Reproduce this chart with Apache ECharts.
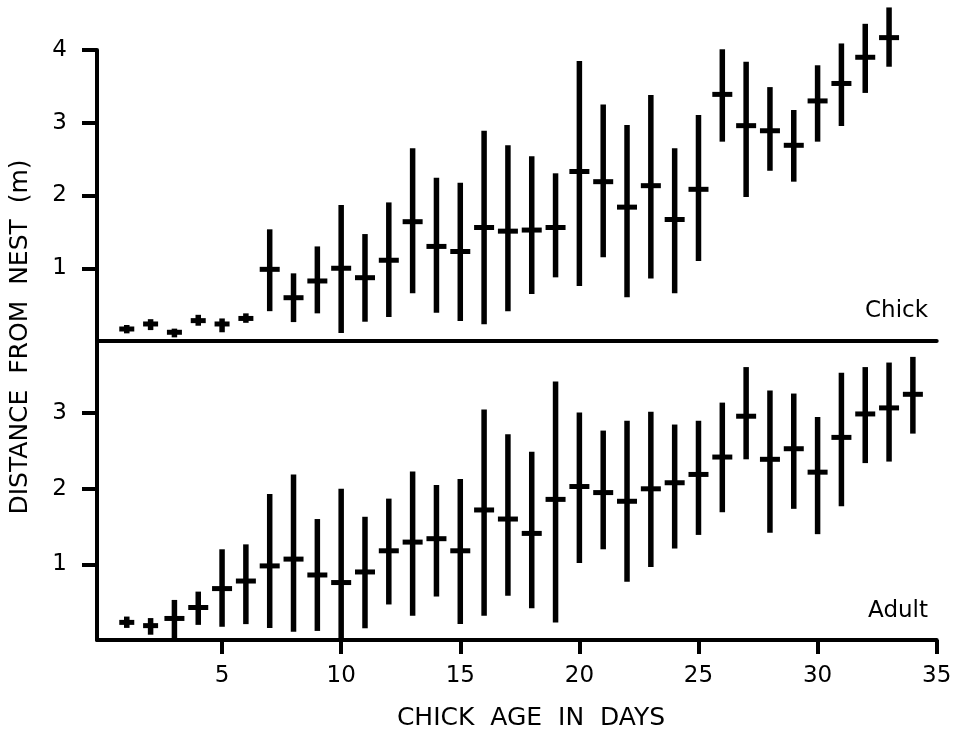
<!DOCTYPE html>
<html><head><meta charset="utf-8">
<script src="https://cdn.jsdelivr.net/npm/echarts@6/dist/echarts.min.js"></script>
<style>html,body{margin:0;padding:0;background:#fff}#c{width:961px;height:729px}</style>
</head><body><div id="c"></div>
<script>
// ---- data ----
const chickDays = [1,2,3,4,5,6,7,8,9,10,11,12,13,14,15,16,17,18,19,20,21,22,23,24,25,26,27,28,29,30,31,32,33];
const chickMean = [0.165,0.234,0.12,0.28,0.234,0.31,0.985,0.595,0.825,1.0,0.87,1.11,1.64,1.30,1.23,1.56,1.51,1.525,1.56,2.33,2.19,1.84,2.135,1.67,2.085,3.39,2.96,2.89,2.69,3.30,3.54,3.90,4.17];
const chickLow  = [0.105,0.15,0.05,0.21,0.12,0.25,0.41,0.26,0.38,0.11,0.265,0.33,0.655,0.39,0.275,0.23,0.41,0.645,0.875,0.755,1.15,0.60,0.86,0.655,1.10,2.74,1.98,2.34,2.19,2.74,2.955,3.41,3.77];
const chickHigh = [0.22,0.30,0.17,0.36,0.31,0.38,1.535,0.93,1.30,1.87,1.47,1.905,2.65,2.245,2.175,2.89,2.69,2.54,2.305,3.85,3.25,2.97,3.38,2.65,3.105,4.01,3.84,3.49,3.175,3.79,4.09,4.36,4.585];

const adultDays = [1,2,3,4,5,6,7,8,9,10,11,12,13,14,15,16,17,18,19,20,21,22,23,24,25,26,27,28,29,30,31,32,33,34];
const adultMean = [0.233,0.19,0.285,0.43,0.68,0.78,0.98,1.07,0.86,0.76,0.90,1.18,1.295,1.34,1.18,1.72,1.60,1.41,1.86,2.03,1.95,1.835,2.0,2.08,2.19,2.42,2.96,2.39,2.53,2.22,2.68,2.99,3.07,3.25];
const adultLow  = [0.16,0.07,0.01,0.20,0.175,0.21,0.16,0.11,0.12,0.0,0.155,0.47,0.32,0.575,0.21,0.32,0.585,0.42,0.23,1.02,1.20,0.77,0.965,1.21,1.39,1.69,2.39,1.42,1.735,1.40,1.77,2.34,2.36,2.73];
const adultHigh = [0.31,0.29,0.53,0.64,1.20,1.265,1.93,2.19,1.60,2.00,1.63,1.87,2.23,2.05,2.13,3.05,2.72,2.49,3.42,3.01,2.77,2.90,3.02,2.85,2.90,3.14,3.61,3.30,3.26,2.95,3.535,3.61,3.67,3.745];

const xTicks = [5,10,15,20,25,30,35];
const chickYTicks = [1,2,3,4];
const adultYTicks = [1,2,3];

const panelLabels = ['Chick','Adult'];
const xTitle = 'CHICK  AGE  IN  DAYS';
const yTitle = 'DISTANCE  FROM  NEST  (m)';

// ---- chart ----
const FONT = '"DejaVu Sans", "Liberation Sans", Arial, sans-serif';
const chart = echarts.init(document.getElementById('c'), null, {renderer:'canvas'});

function rows(days, mean, low, high){ return days.map((d,i)=>[d, mean[i], low[i], high[i]]); }

function renderBar(params, api){
  const x = api.value(0), m = api.value(1), lo = api.value(2), hi = api.value(3);
  const pM = api.coord([x,m]), pL = api.coord([x,lo]), pH = api.coord([x,hi]);
  const span = pL[1] - pH[1];
  const hw = span < 30 ? 7.5 : 10;
  return {type:'group', children:[
    {type:'line', shape:{x1:pL[0],y1:pL[1],x2:pH[0],y2:pH[1]}, style:{stroke:'#000',lineWidth:5.5}},
    {type:'line', shape:{x1:pM[0]-hw,y1:pM[1],x2:pM[0]+hw,y2:pM[1]}, style:{stroke:'#000',lineWidth:5}}
  ]};
}

const axisLineStyle = {color:'#000', width:4};
function xAx(idx, showTicks){
  return {
    type:'value', gridIndex:idx, min:-0.25, max:35,
    axisLine:{show:true, onZero:false, lineStyle:axisLineStyle},
    axisTick:{show:showTicks, length:14, inside:false, lineStyle:{color:'#000', width:4}, customValues:xTicks},
    axisLabel:{show:showTicks, customValues:xTicks, margin:25, fontSize:23, color:'#000', fontFamily:FONT},
    splitLine:{show:false}
  };
}
function yAx(idx, max, ticks){
  return {
    type:'value', gridIndex:idx, min:0, max:max,
    axisLine:{show:true, onZero:false, lineStyle:axisLineStyle},
    axisTick:{show:true, length:15, lineStyle:{color:'#000', width:4}, customValues:ticks},
    axisLabel:{customValues:ticks, margin:30, fontSize:23, color:'#000', fontFamily:FONT},
    splitLine:{show:false}
  };
}

chart.setOption({
  backgroundColor:'#fff',
  animation:false,
  grid:[
    {left:97, width:839.7, top:50, height:291},
    {left:97, width:839.7, top:341, height:299}
  ],
  xAxis:[xAx(0,false), xAx(1,true)],
  yAxis:[yAx(0,4,chickYTicks), yAx(1,3.955,adultYTicks)],
  series:[
    {type:'custom', name:'Chick', xAxisIndex:0, yAxisIndex:0, clip:false,
     renderItem:renderBar, encode:{x:0, y:[1,2,3]},
     data:rows(chickDays, chickMean, chickLow, chickHigh)},
    {type:'custom', name:'Adult', xAxisIndex:1, yAxisIndex:1, clip:false,
     renderItem:renderBar, encode:{x:0, y:[1,2,3]},
     data:rows(adultDays, adultMean, adultLow, adultHigh)}
  ],
  graphic:[
    {type:'text', x:928, y:311, style:{text:panelLabels[0], font:'23px '+FONT, fill:'#000', align:'right', verticalAlign:'middle', textAlign:'right', textVerticalAlign:'middle'}},
    {type:'text', x:928, y:611, style:{text:panelLabels[1], font:'23px '+FONT, fill:'#000', align:'right', verticalAlign:'middle', textAlign:'right', textVerticalAlign:'middle'}},
    {type:'text', x:531, y:718, style:{text:xTitle, font:'25px '+FONT, fill:'#000', align:'center', verticalAlign:'middle', textAlign:'center', textVerticalAlign:'middle'}},
    {type:'text', x:20, y:337, rotation:Math.PI/2, style:{text:yTitle, font:'25px '+FONT, fill:'#000', align:'center', verticalAlign:'middle', textAlign:'center', textVerticalAlign:'middle'}}
  ]
});
</script>
</body></html>
